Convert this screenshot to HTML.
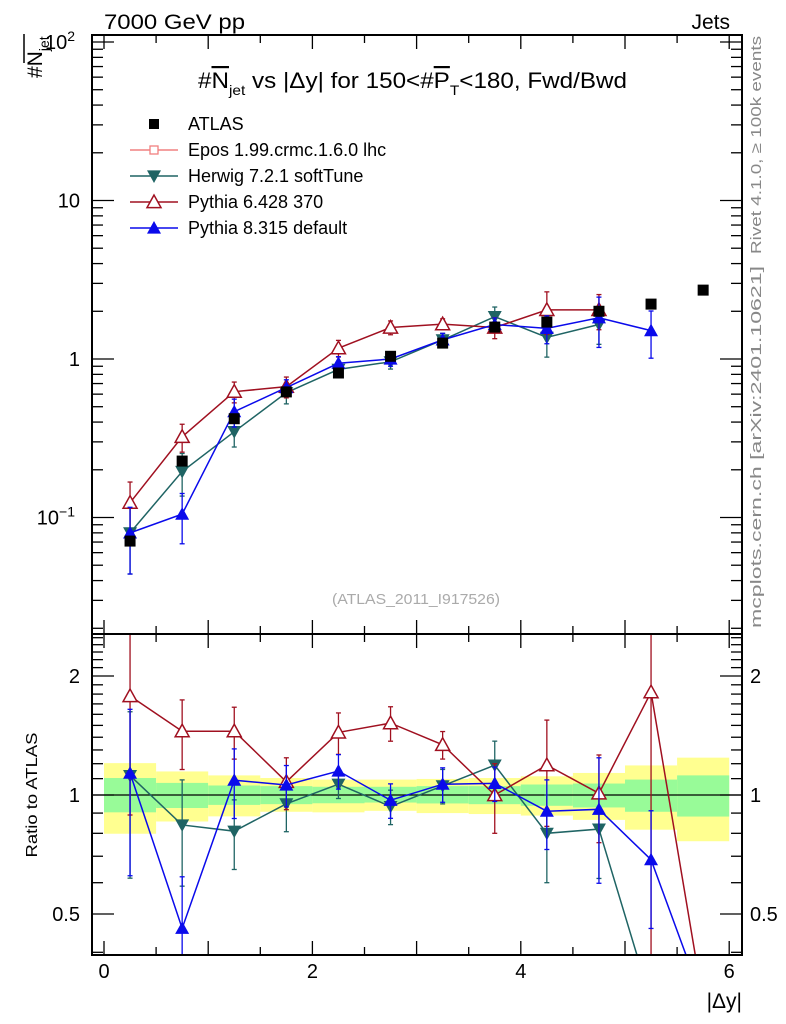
<!DOCTYPE html>
<html><head><meta charset="utf-8"><style>
html,body{margin:0;padding:0;background:#fff;overflow:hidden;width:786px;height:1024px;}
svg{display:block;font-family:"Liberation Sans",sans-serif;}
</style></head><body>
<svg id="chart" width="786" height="1024" viewBox="0 0 786 1024" xmlns="http://www.w3.org/2000/svg">
<defs>
<clipPath id="topclip"><rect x="92" y="35" width="650" height="598"/></clipPath>
<clipPath id="ratclip"><rect x="92" y="635" width="650" height="319"/></clipPath>
</defs>
<g id="bands" clip-path="url(#ratclip)"></g>
<g id="series"></g>
<g id="axes"></g>
<text x="104" y="29" font-size="21" textLength="141" lengthAdjust="spacingAndGlyphs">7000 GeV pp</text>
<text x="730" y="29" font-size="21" text-anchor="end">Jets</text>
<g font-size="22">
<text x="198" y="88" textLength="429" lengthAdjust="spacingAndGlyphs">#<tspan text-decoration="overline">N</tspan><tspan font-size="14" dy="7">jet</tspan><tspan dy="-7"> vs |Δy| for 150&lt;#</tspan><tspan text-decoration="overline">P</tspan><tspan font-size="14" dy="7">T</tspan><tspan dy="-7">&lt;180, Fwd/Bwd</tspan></text>
</g>
<g transform="translate(42,78) rotate(-90)" font-size="21">
<text x="0" y="0">#N<tspan font-size="14" dy="7">jet</tspan></text>
<line x1="15" y1="-18" x2="44" y2="-18" stroke="#000" stroke-width="1.5"/>
</g>
<text transform="translate(37,795) rotate(-90)" font-size="16" text-anchor="middle" textLength="125" lengthAdjust="spacingAndGlyphs">Ratio to ATLAS</text>
<text x="742" y="1008" font-size="21" text-anchor="end">|Δy|</text>
<text transform="translate(761,145) rotate(-90)" font-size="15" fill="#888" text-anchor="middle" textLength="218" lengthAdjust="spacingAndGlyphs">Rivet 4.1.0, ≥ 100k events</text>
<text transform="translate(761,447) rotate(-90)" font-size="15" fill="#888" text-anchor="middle" textLength="362" lengthAdjust="spacingAndGlyphs">mcplots.cern.ch [arXiv:2401.10621]</text>
<text x="416" y="604" font-size="15" fill="#aaa" text-anchor="middle" textLength="168" lengthAdjust="spacingAndGlyphs">(ATLAS_2011_I917526)</text>
<g id="legend" font-size="18"></g>
</svg>
<script>
const xCenters = [0.25,0.75,1.25,1.75,2.25,2.75,3.25,3.75,4.25,4.75,5.25,5.75];
const atlasVals = [0.071,0.227,0.42,0.62,0.816,1.04,1.26,1.59,1.71,2.0,2.22,2.72];
const herwigVals = [0.080,0.195,0.348,0.613,0.86,0.96,1.32,1.85,1.37,1.65];
const herwigErr = [0.45,0.3,0.2,0.15,0.08,0.1,0.1,0.15,0.25,0.25];
const py6Vals = [0.124,0.323,0.622,0.669,1.17,1.58,1.66,1.58,2.04,2.04];
const py6Err = [0.35,0.2,0.15,0.15,0.12,0.1,0.08,0.15,0.3,0.25];
const py8Vals = [0.08,0.105,0.465,0.66,0.94,1.0,1.32,1.65,1.56,1.82,1.51];
const py8Err = [0.45,0.35,0.2,0.12,0.1,0.1,0.1,0.1,0.2,0.35,0.33];
const herwigRatio = [1.12,0.84,0.81,0.95,1.065,0.935,1.055,1.19,0.80,0.82,0.30];
const herwigRatioErr = [0.45,0.3,0.2,0.15,0.08,0.1,0.1,0.15,0.25,0.25,0.3];
const py6Ratio = [1.78,1.45,1.45,1.08,1.44,1.52,1.34,1.0,1.19,1.01,1.82,0.30];
const py6RatioErr = [0.5,0.2,0.15,0.15,0.12,0.1,0.08,0.2,0.3,0.25,1.0,0.1];
const py8Ratio = [1.136,0.46,1.09,1.06,1.15,0.97,1.065,1.07,0.91,0.92,0.686,0.30];
const py8RatioErr = [0.45,0.35,0.2,0.12,0.1,0.1,0.1,0.1,0.2,0.35,0.33,0.05];
const greenHi = [1.104,1.073,1.057,1.053,1.049,1.049,1.053,1.053,1.063,1.069,1.094,1.121];
const greenLo = [0.904,0.927,0.944,0.948,0.953,0.957,0.952,0.948,0.939,0.930,0.907,0.882];
const yellowHi = [1.204,1.147,1.121,1.104,1.094,1.094,1.098,1.104,1.115,1.137,1.188,1.243];
const yellowLo = [0.798,0.857,0.883,0.907,0.904,0.912,0.900,0.895,0.887,0.865,0.817,0.764];
const xTicks = [0,2,4,6];
const ratioTicks = [0.5,1,2];

const NS="http://www.w3.org/2000/svg";
const L=92,R=742,T=35,MID=634,B=955;
const X=v=>104+v*104.2;
const Y=v=>359-158.5*Math.log10(v);
const YR=v=>795-119*Math.log2(v);
function mk(parent,tag,attrs){const e=document.createElementNS(NS,tag);for(const k in attrs)e.setAttribute(k,attrs[k]);parent.appendChild(e);return e;}
const bands=document.getElementById('bands'),series=document.getElementById('series'),axes=document.getElementById('axes'),legend=document.getElementById('legend');

xCenters.forEach((c,i)=>{
  let r=mk(bands,'rect',{x:X(c-0.25),y:YR(yellowHi[i]),width:X(0.5)-X(0),height:YR(yellowLo[i])-YR(yellowHi[i]),fill:'#ffff90'});
  
  
  let g=mk(bands,'rect',{x:X(c-0.25),y:YR(greenHi[i]),width:X(0.5)-X(0),height:YR(greenLo[i])-YR(greenHi[i]),fill:'#98fb98'});
  
  
});
let one=mk(bands,'line',{x1:L,x2:R,y1:YR(1),y2:YR(1),stroke:'#000','stroke-width':1.3});



function marker(g,type,x,y,color,s){
  s=s||7;
  if(type==='sq') return mk(g,'rect',{x:x-s,y:y-s,width:2*s,height:2*s,fill:'#000'});
  if(type==='up') return mk(g,'polygon',{points:`${x},${y-s} ${x-s},${y+s*0.8} ${x+s},${y+s*0.8}`,fill:color});
  if(type==='upo') return mk(g,'polygon',{points:`${x},${y-s} ${x-s},${y+s*0.8} ${x+s},${y+s*0.8}`,fill:'#fff',stroke:color,'stroke-width':1.5});
  if(type==='down') return mk(g,'polygon',{points:`${x},${y+s} ${x-s},${y-s*0.8} ${x+s},${y-s*0.8}`,fill:color});
}
function drawSeries(name,vals,errs,color,type,yf,clip){
  const g=mk(series,'g',{'clip-path':`url(#${clip})`});
  
  
  const pts=vals.map((v,i)=>X(xCenters[i])+','+yf(v)).join(' ');
  mk(g,'polyline',{points:pts,fill:'none',stroke:color,'stroke-width':1.5});
  vals.forEach((v,i)=>{
    const x=X(xCenters[i]);const e=errs[i];
    const y1=yf(v*(1+e)),y2=yf(Math.max(v*(1-e),1e-4));
    mk(g,'line',{x1:x,x2:x,y1:y1,y2:y2,stroke:color,'stroke-width':1.3});
    mk(g,'line',{x1:x-2.5,x2:x+2.5,y1:y1,y2:y1,stroke:color,'stroke-width':1.3});
    mk(g,'line',{x1:x-2.5,x2:x+2.5,y1:y2,y2:y2,stroke:color,'stroke-width':1.3});
    const m=marker(g,type,x,yf(v),color);
    
    
  });
}
drawSeries('herwig-series',herwigVals,herwigErr,'#1f6464','down',Y,'topclip');
drawSeries('pythia6-series',py6Vals,py6Err,'#a01020','upo',Y,'topclip');
drawSeries('pythia8-series',py8Vals,py8Err,'#0a0aeb','up',Y,'topclip');
drawSeries('herwig-ratio',herwigRatio,herwigRatioErr,'#1f6464','down',YR,'ratclip');
drawSeries('pythia6-ratio',py6Ratio,py6RatioErr,'#a01020','upo',YR,'ratclip');
drawSeries('pythia8-ratio',py8Ratio,py8RatioErr,'#0a0aeb','up',YR,'ratclip');
const ag=mk(series,'g',{});


atlasVals.forEach((v,i)=>{
  const m=marker(ag,'sq',X(xCenters[i]),Y(v),'#000',5.5);
  
  
});

[[T,MID],[MID,B]].forEach(([a,b],k)=>{
  const f=mk(axes,'rect',{x:L,y:a,width:R-L,height:b-a,fill:'none',stroke:'#000','stroke-width':2});
  
  
  for(let v=0;v<=6.01;v+=0.5){
    const x=X(v);
    const ln=v%1===0?14:8;
    mk(axes,'line',{x1:x,x2:x,y1:b,y2:b-ln,stroke:'#000','stroke-width':1.3});
    mk(axes,'line',{x1:x,x2:x,y1:a,y2:a+ln,stroke:'#000','stroke-width':1.3});
  }
});
for(let d=-2;d<=2;d++){for(let m=1;m<10;m++){const v=m*Math.pow(10,d);const y=Y(v);if(y<T||y>MID)continue;const ln=m===1?22:11;
  mk(axes,'line',{x1:L,x2:L+ln,y1:y,y2:y,stroke:'#000','stroke-width':1.3});
  mk(axes,'line',{x1:R,x2:R-ln,y1:y,y2:y,stroke:'#000','stroke-width':1.3});}}
const yl=[[100,'10','2'],[10,'10',''],[1,'1',''],[0.1,'10','−1']];
yl.forEach(([v,b,e])=>{const t=mk(axes,'text',{x:e?75:80,y:Y(v)+7,'font-size':20,'text-anchor':'end'});
  
  
  t.textContent=b; if(e){const s=mk(t,'tspan',{dy:-8,'font-size':14});s.textContent=e;}});
for(let v=0.4;v<=2.51;v+=0.1){const y=YR(v);if(y<MID||y>B)continue;const maj=ratioTicks.some(t=>Math.abs(t-v)<1e-6);const ln=maj?22:11;
  mk(axes,'line',{x1:L,x2:L+ln,y1:y,y2:y,stroke:'#000','stroke-width':1.3});
  mk(axes,'line',{x1:R,x2:R-ln,y1:y,y2:y,stroke:'#000','stroke-width':1.3});}
ratioTicks.forEach(v=>{
  const t=mk(axes,'text',{x:80,y:YR(v)+7,'font-size':20,'text-anchor':'end'});
  
  
  t.textContent=String(v);
  const t2=mk(axes,'text',{x:750,y:YR(v)+7,'font-size':20});
  
  
  t2.textContent=String(v);
});
xTicks.forEach(v=>{
  const t=mk(axes,'text',{x:X(v),y:978,'font-size':20,'text-anchor':'middle'});
  
  
  t.textContent=String(v);
});
const items=[['ATLAS','#000','sq'],['Epos 1.99.crmc.1.6.0 lhc','#f08080','cross'],['Herwig 7.2.1 softTune','#1f6464','down'],['Pythia 6.428 370','#a01020','upo'],['Pythia 8.315 default','#0a0aeb','up']];
items.forEach(([lab,c,t],i)=>{
  const y=124+i*26;
  const g=mk(legend,'g',{});
  
  
  if(t!=='sq') mk(g,'line',{x1:130,x2:178,y1:y,y2:y,stroke:c,'stroke-width':1.5});
  if(t==='cross'){mk(g,'rect',{x:150,y:y-4,width:8,height:8,fill:'#fff',stroke:c,'stroke-width':1.3});}
  else marker(g,t,154,y,c,t==='sq'?5:7);
  const tx=mk(g,'text',{x:188,y:y+6});
  tx.textContent=lab;
});
</script>
</body></html>
